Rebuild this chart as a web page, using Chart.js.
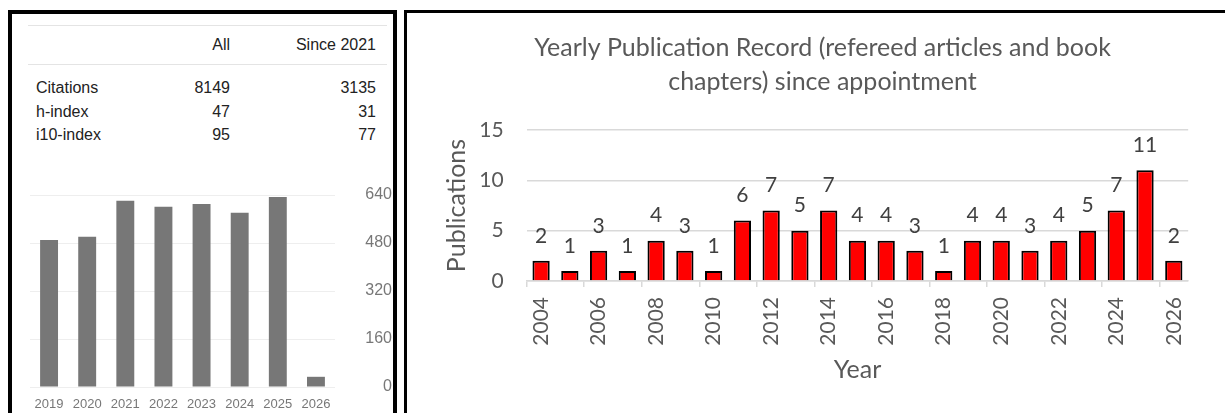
<!DOCTYPE html>
<html>
<head>
<meta charset="utf-8">
<script src="https://cdn.jsdelivr.net/npm/chart.js@4.4.0/dist/chart.umd.min.js"></script>
<style>
    html, body { margin: 0; padding: 0; background: #fff; overflow: hidden; }
    body { width: 1225px; height: 413px; position: relative; font-family: Arial, "Liberation Sans", sans-serif; }
    #scholar { position: absolute; left: 8px; top: 10px; width: 381px; height: 420px; border: 4px solid #000; }
    #pubPanel { position: absolute; left: 404px; top: 10px; width: 830px; height: 420px; border-left: 3px solid #000; border-top: 3px solid #000; }
    .rule { position: absolute; left: 16px; width: 359px; height: 1px; background: #e4e4e4; }
    .cell { position: absolute; height: 20px; line-height: 20px; font-size: 16px; color: #222; white-space: nowrap; }
    .num { text-align: right; width: 120px; }
    canvas { position: absolute; }
    #citeChart { left: 20px; top: 170px; }
    #pubChart { left: 436px; top: 13px; }
</style>
</head>
<body>
<div id="scholar"></div>
<div id="pubPanel"></div>
<canvas id="citeChart" width="372" height="243"></canvas>
<canvas id="pubChart" width="773" height="400"></canvas>
<script>
// citation summary table
const statHeaders = ['All', 'Since 2021'];
const statNames = ['Citations', 'h-index', 'i10-index'];
const statAll = [8149, 47, 95];
const statSince = [3135, 31, 77];

// citations per year (left chart)
const citeYears = ['2019', '2020', '2021', '2022', '2023', '2024', '2025', '2026'];
const citeCounts = [490, 501, 621, 601, 610, 581, 633, 34];
const citeTicks = [0, 160, 320, 480, 640];

// publications per year (right chart)
const pubYears = ['2004', '2005', '2006', '2007', '2008', '2009', '2010', '2011', '2012', '2013', '2014', '2015',
    '2016', '2017', '2018', '2019', '2020', '2021', '2022', '2023', '2024', '2025', '2026'];
const pubCounts = [2, 1, 3, 1, 4, 3, 1, 6, 7, 5, 7, 4, 4, 3, 1, 4, 4, 3, 4, 5, 7, 11, 2];
const pubTicks = [0, 5, 10, 15];
const pubTitle = ['Yearly Publication Record (refereed articles and book', 'chapters) since appointment'];

const excelFont = 'Lato, "Open Sans", sans-serif';
const excelGrey = '#595959';

document.addEventListener('DOMContentLoaded', () => {
    const panel = document.getElementById('scholar');

    const addDiv = (cls, left, top, text) => {
        const el = document.createElement('div');
        el.className = cls;
        el.style.left = left + 'px';
        el.style.top = top + 'px';
        if (text !== undefined) el.textContent = text;
        panel.appendChild(el);
        return el;
    };

    addDiv('rule', 16, 11);
    addDiv('rule', 16, 50);
    addDiv('cell num', 98, 21, statHeaders[0]);
    addDiv('cell num', 244, 21, statHeaders[1]);
    statNames.forEach((name, i) => {
        const top = 64 + i * 23.5;
        addDiv('cell', 24, top, name);
        addDiv('cell num', 98, top, statAll[i]);
        addDiv('cell num', 244, top, statSince[i]);
    });

    new Chart(document.getElementById('citeChart'), {
        type: 'bar',
        data: {
            labels: citeYears,
            datasets: [{
                data: citeCounts,
                backgroundColor: '#777777',
                barPercentage: 0.47,
                categoryPercentage: 1
            }]
        },
        options: {
            responsive: false,
            animation: false,
            layout: { padding: { left: 10, top: 25 } },
            plugins: { legend: { display: false }, tooltip: { enabled: false } },
            scales: {
                x: {
                    grid: { display: false },
                    border: { display: false },
                    ticks: { color: '#777', font: { family: 'Arial', size: 13 }, padding: 2, maxRotation: 0, autoSkip: false },
                    afterFit: (scale) => { scale.height = 26; }
                },
                y: {
                    position: 'right',
                    min: 0,
                    max: 640,
                    afterBuildTicks: (scale) => { scale.ticks = citeTicks.map(v => ({ value: v })); },
                    grid: { color: '#eeeeee', drawTicks: false },
                    border: { display: false },
                    ticks: { color: '#777', font: { family: 'Arial', size: 16 }, padding: 11, crossAlign: 'far' },
                    afterFit: (scale) => { scale.width = 57; }
                }
            }
        }
    });

    // value labels above the red bars
    const barLabels = {
        id: 'barLabels',
        afterDatasetsDraw(chart) {
            const ctx = chart.ctx;
            const meta = chart.getDatasetMeta(0);
            ctx.save();
            ctx.font = '21px ' + excelFont;
            ctx.fillStyle = '#404040';
            ctx.textAlign = 'center';
            ctx.textBaseline = 'middle';
            meta.data.forEach((bar, i) => {
                ctx.fillText(String(pubCounts[i]), bar.x, bar.y - 25);
            });
            ctx.restore();
        }
    };

    new Chart(document.getElementById('pubChart'), {
        type: 'bar',
        data: {
            labels: pubYears,
            datasets: [{
                data: pubCounts,
                backgroundColor: '#ff0000',
                borderColor: '#000000',
                borderWidth: 2,
                barPercentage: 0.6,
                categoryPercentage: 1
            }]
        },
        options: {
            responsive: false,
            animation: false,
            layout: { padding: 0 },
            plugins: {
                legend: { display: false },
                tooltip: { enabled: false },
                title: {
                    display: true,
                    text: pubTitle,
                    color: excelGrey,
                    font: { family: excelFont, size: 25, weight: 'normal', lineHeight: '34px' },
                    padding: { top: 18, bottom: 31 }
                }
            },
            scales: {
                x: {
                    grid: {
                        offset: true,
                        drawOnChartArea: false,
                        tickLength: 6,
                        lineWidth: 1.5,
                        color: (c) => (c.index % 2 === 0 ? '#d9d9d9' : 'rgba(0,0,0,0)')
                    },
                    border: { color: '#d9d9d9', width: 1.5 },
                    ticks: {
                        autoSkip: false,
                        minRotation: 90,
                        maxRotation: 90,
                        padding: 10,
                        color: excelGrey,
                        font: { family: excelFont, size: 21 },
                        callback: (value, i) => (i % 2 === 0 ? pubYears[i] : '')
                    },
                    title: {
                        display: true,
                        text: 'Year',
                        color: excelGrey,
                        font: { family: excelFont, size: 25 },
                        padding: { top: 0, bottom: 28 }
                    },
                    afterFit: (scale) => { scale.height = 132; }
                },
                y: {
                    min: 0,
                    max: 15,
                    afterBuildTicks: (scale) => { scale.ticks = pubTicks.map(v => ({ value: v })); },
                    grid: { color: '#d9d9d9', lineWidth: 1.5, drawTicks: false },
                    border: { display: false },
                    ticks: { padding: 23, color: excelGrey, font: { family: excelFont, size: 21 } },
                    title: {
                        display: true,
                        text: 'Publications',
                        color: excelGrey,
                        font: { family: excelFont, size: 25 },
                        padding: { top: 6, bottom: 0 }
                    },
                    afterFit: (scale) => { scale.width = 90.7; }
                }
            }
        },
        plugins: [barLabels]
    });
});
</script>
</body>
</html>
